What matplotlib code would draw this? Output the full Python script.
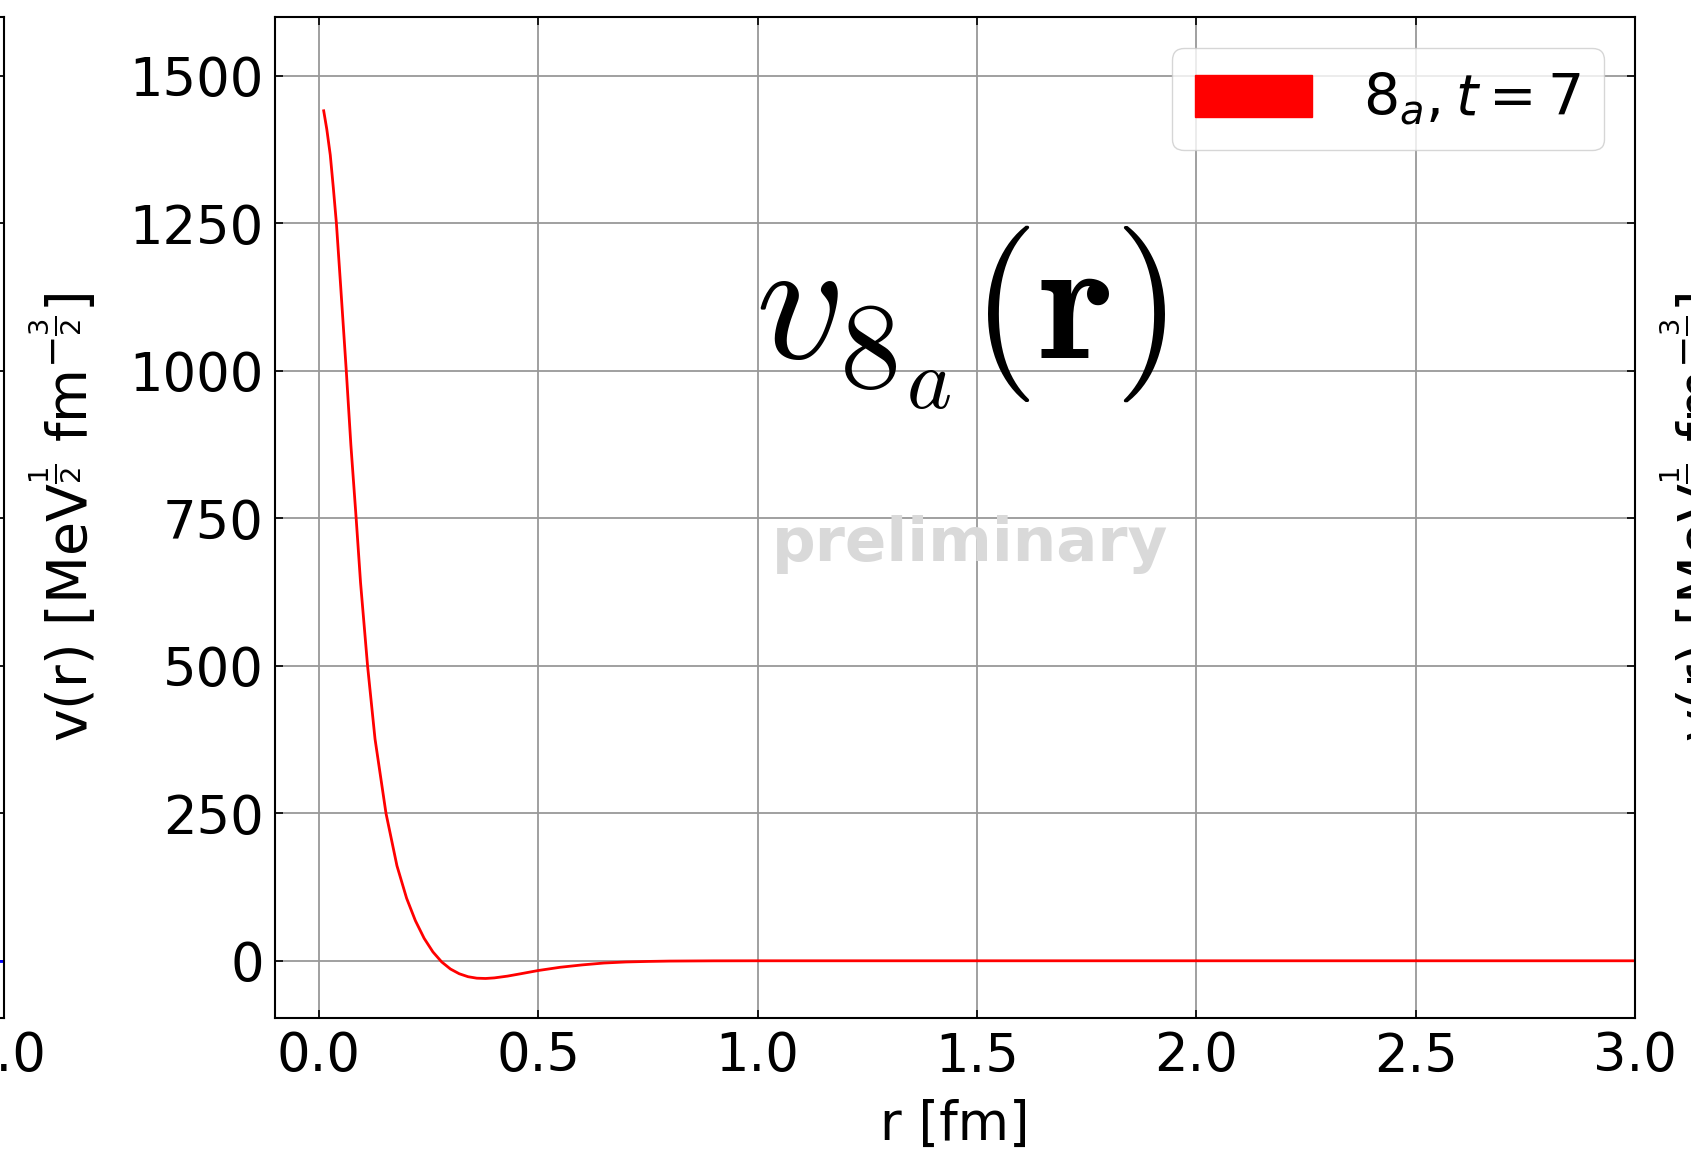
import matplotlib.pyplot as plt
from matplotlib.patches import Patch

plt.close("all")

# potential v_8a(r), t = 7
r = [0.011, 0.018, 0.026, 0.033, 0.040, 0.050, 0.0625, 0.073, 0.085, 0.095,
     0.111, 0.128, 0.153, 0.178, 0.20, 0.22, 0.24, 0.26, 0.28, 0.30,
     0.32, 0.34, 0.36, 0.38, 0.40, 0.43, 0.46, 0.50, 0.55, 0.60,
     0.65, 0.70, 0.75, 0.80, 0.90, 1.0, 1.5, 2.0, 2.5, 3.0]
v = [1441, 1410, 1366, 1310, 1250, 1140, 1000, 874, 750, 641,
     500, 376, 250, 161, 106, 68, 38, 15, -2, -14,
     -22, -27, -29.5, -30, -29, -26, -22, -16.5, -11, -7,
     -3.8, -2, -1.1, -0.5, -0.1, 0, 0, 0, 0, 0]

# neighbouring panel (only its tail at r = 1.0 is visible)
r_left = [0.9, 1.0]
v_left = [0, 0]

legend_label = r"$8_a, t=7$"
title = r"$v_{8_a}(\mathbf{r})$"
ylabel = r"v(r) [MeV$^{\frac{1}{2}}$ fm$^{-\frac{3}{2}}$]"
xticks = [0.0, 0.5, 1.0, 1.5, 2.0, 2.5, 3.0]
yticks = [0, 250, 500, 750, 1000, 1250, 1500]

plt.rcParams["font.family"] = "DejaVu Sans"
W, H = 1691, 1151
fig = plt.figure(figsize=(W / 100, H / 100), dpi=100)

axw, axh = 1360 / W, 1001 / H
bottom = 133 / H
ax_left = fig.add_axes([(4 - 1360) / W, bottom, axw, axh])
ax = fig.add_axes([275 / W, bottom, axw, axh], sharey=ax_left)
ax_right = fig.add_axes([1906 / W, bottom, axw, axh], sharey=ax_left)

for a in (ax_left, ax, ax_right):
    a.set_ylim(-97, 1600)
    a.set_yticks(yticks)
    a.grid(True, color="#999999", lw=1.3)
    a.tick_params(direction="in", top=True, right=True, labelsize=38, length=6, width=1.2)
    a.tick_params(axis="y", pad=8)
    a.tick_params(axis="x", pad=9)
    for s in a.spines.values():
        s.set_linewidth(1.5)
    a.set_ylabel(ylabel, fontsize=40)
    a.yaxis.set_label_coords(-0.1287, 0.5)
    a.set_axisbelow(True)

ax_left.plot(r_left, v_left, color="blue", lw=2)
ax_left.set_xlim(-0.1, 1.0)
ax_left.set_xticks([0.0, 0.5, 1.0])

ax.plot(r, v, color="red", lw=2)
ax.set_xlim(-0.1, 3.0)
ax.set_xticks(xticks)
ax.set_xlabel("r [fm]", fontsize=38, labelpad=12)
ax.legend(handles=[Patch(color="red", label=legend_label)], loc="upper right",
          fontsize=41, handlelength=2.05, handleheight=0.76, handletextpad=0.9,
          borderaxespad=0.55)

ax.text(0.504, 0.70, title, transform=ax.transAxes, fontsize=126,
        math_fontfamily="cm", ha="center", va="center")
ax.text(0.511, 0.473, "preliminary", transform=ax.transAxes, fontsize=44,
        family="DejaVu Sans", weight="bold", color="#d9d9d9", ha="center", va="center")

ax_right.set_xlim(-0.1, 3.0)
ax_right.set_xticks(xticks)

fig.savefig("out.png", dpi=100)
